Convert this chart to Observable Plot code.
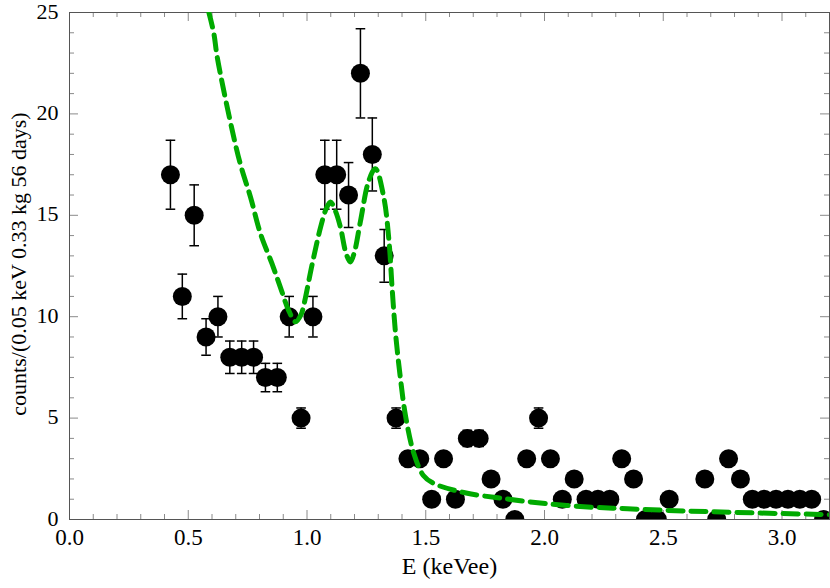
<!DOCTYPE html>
<html>
<head>
<meta charset="utf-8">
<script src="https://cdn.jsdelivr.net/npm/d3@7"></script>
<script src="https://cdn.jsdelivr.net/npm/@observablehq/plot@0.6"></script>
<style>
  html, body { margin: 0; padding: 0; background: white; }
</style>
</head>
<body>
<div id="chart"></div>
<script>
const energies = [0.425,0.475,0.525,0.575,0.625,0.675,0.725,0.775,0.825,0.875,0.925,0.975,1.025,1.075,1.125,1.175,1.225,1.275,1.325,1.375,1.425,1.475,1.525,1.575,1.625,1.675,1.725,1.775,1.825,1.875,1.925,1.975,2.025,2.075,2.125,2.175,2.225,2.275,2.325,2.375,2.425,2.475,2.525,2.675,2.725,2.775,2.825,2.875,2.925,2.975,3.025,3.075,3.125,3.175];
const counts = [17,11,15,9,10,8,8,8,7,7,10,5,10,17,17,16,22,18,13,5,3,3,1,3,1,4,4,2,1,0,3,5,3,1,2,1,1,1,3,2,0,0,1,2,0,3,2,1,1,1,1,1,1,0];
const errors = [1.7,1.1,1.5,0.9,1.0,0.8,0.8,0.8,0.7,0.7,1.0,0.5,1.0,1.7,1.7,1.6,2.2,1.8,1.3,0.5,0.3,0.3,0.1,0.3,0.1,0.4,0.4,0.2,0.1,0,0.3,0.5,0.3,0.1,0.2,0.1,0.1,0.1,0.3,0.2,0,0,0.1,0.2,0,0.3,0.2,0.1,0.1,0.1,0.1,0.1,0.1,0];

const fitE = [0.587,0.608,0.622,0.685,0.72,0.762,0.804,0.853,0.888,0.923,0.952,0.975,0.987,1.022,1.057,1.08,1.099,1.12,1.141,1.165,1.183,1.2,1.225,1.26,1.288,1.323,1.345,1.359,1.373,1.394,1.415,1.45,1.49,1.53,1.66,1.83,2.01,2.21,2.35,2.52,2.80,3.16,3.2];
const fitY = [25.0,23.95,22.8,19.2,17.5,15.9,14.1,12.6,11.45,10.3,9.75,10.1,10.6,12.6,14.4,15.3,15.65,15.2,14.4,13.1,12.7,13.2,14.7,16.7,17.3,15.9,13.76,11.3,9.16,6.9,5.1,3.25,2.17,1.8,1.33,1.03,0.78,0.6,0.53,0.45,0.35,0.25,0.24];

const xMajor = [0,0.5,1.0,1.5,2.0,2.5,3.0];
const xMinor = [0.1,0.2,0.3,0.4,0.6,0.7,0.8,0.9,1.1,1.2,1.3,1.4,1.6,1.7,1.8,1.9,2.1,2.2,2.3,2.4,2.6,2.7,2.8,2.9,3.1];
const yMajor = [0,5,10,15,20,25];
const yMinor = [1,2,3,4,6,7,8,9,11,12,13,14,16,17,18,19,21,22,23,24];

const xTitle = "E (keVee)";
const yTitle = "counts/(0.05 keV 0.33 kg 56 days)";

const points = energies.map((E, i) => ({E, v: counts[i], err: errors[i]}));
const bars = points.filter(d => d.err > 0);
const fit = fitE.map((E, i) => ({E, y: fitY[i]}));

const W = 830, H = 588, ML = 69, MR = 1, MT = 12, MB = 69;
const PW = W - ML - MR, PH = H - MT - MB;
const majorLen = 9, minorLen = 5;
const tickColor = "#8a8a8a";
const serif = "'Liberation Serif', 'DejaVu Serif', 'Times New Roman', serif";

const capSymbol = {
  draw(ctx, size) {
    const w = Math.sqrt(size / Math.PI);
    ctx.moveTo(-w, 0);
    ctx.lineTo(w, 0);
  }
};

const chart = Plot.plot({
  width: W, height: H,
  marginLeft: ML, marginRight: MR, marginTop: MT, marginBottom: MB,
  x: {domain: [0, 3.2]},
  y: {domain: [0, 25]},
  style: `font-family: ${serif}; font-size: 22px; background: white; color: black;`,
  marks: [
    // inward ticks
    Plot.ruleX(xMajor, {x: d => d, insetTop: PH - majorLen, stroke: tickColor}),
    Plot.ruleX(xMinor, {x: d => d, insetTop: PH - minorLen, stroke: tickColor}),
    Plot.ruleX(xMajor, {x: d => d, insetBottom: PH - majorLen, stroke: tickColor}),
    Plot.ruleX(xMinor, {x: d => d, insetBottom: PH - minorLen, stroke: tickColor}),
    Plot.ruleY(yMajor, {y: d => d, insetRight: PW - majorLen, stroke: tickColor}),
    Plot.ruleY(yMinor, {y: d => d, insetRight: PW - minorLen, stroke: tickColor}),
    Plot.ruleY(yMajor, {y: d => d, insetLeft: PW - majorLen, stroke: tickColor}),
    Plot.ruleY(yMinor, {y: d => d, insetLeft: PW - minorLen, stroke: tickColor}),
    Plot.frame({stroke: "#555"}),
    Plot.axisX(xMajor, {tickSize: 0, tickPadding: 9, tickFormat: d3.format(".1f"), label: null, fontSize: 23}),
    Plot.axisY(yMajor, {tickSize: 0, tickPadding: 11, label: null, fontSize: 22, dy: -1}),
    // error bars
    Plot.ruleX(bars, {x: "E", y1: d => d.v - d.err, y2: d => d.v + d.err, stroke: "black", strokeWidth: 1.5}),
    Plot.dot(bars, {x: "E", y: d => d.v + d.err, symbol: capSymbol, r: 4.8, stroke: "black", fill: "none", strokeWidth: 1.5}),
    Plot.dot(bars, {x: "E", y: d => d.v - d.err, symbol: capSymbol, r: 4.8, stroke: "black", fill: "none", strokeWidth: 1.5}),
    // data points
    Plot.dot(points, {x: "E", y: "v", r: 9.5, fill: "black", stroke: "none", clip: true}),
    // fit curve
    Plot.line(fit, {x: "E", y: "y", stroke: "#00aa00", strokeWidth: 5, strokeDasharray: "15,8", curve: "catmull-rom", clip: true}),
    // titles
    Plot.text([xTitle], {frameAnchor: "bottom", textAnchor: "middle", dy: 54, fontSize: 24, fill: "black"}),
    Plot.text([yTitle], {frameAnchor: "left", textAnchor: "middle", dx: -51, dy: -2, rotate: -90, fontSize: 22, fill: "black"})
  ]
});
document.getElementById("chart").appendChild(chart);
</script>
</body>
</html>
